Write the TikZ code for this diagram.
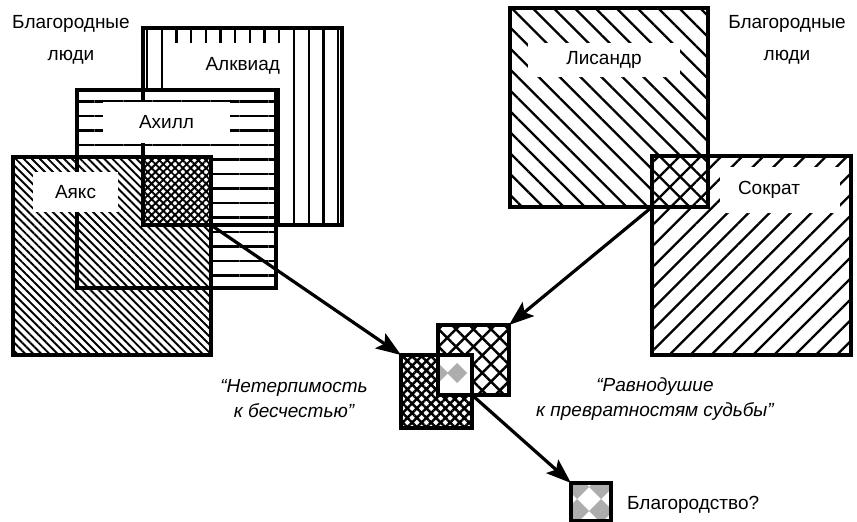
\documentclass[tikz,border=0pt]{standalone}
\usepackage{fontspec}
\setmainfont{Liberation Sans}
\usetikzlibrary{arrows.meta,patterns.meta}
\tikzstyle{sq} = [inner sep=0pt, outer sep=0pt, preaction={fill=white}]
\tikzstyle{frame} = [draw=black, line width=3.3pt]
\tikzstyle{tag} = [fill=white, inner sep=0pt]
\tikzstyle{note} = [align=center, inner sep=0pt]
\tikzstyle{pointer} = [-{Stealth[length=25pt,width=18pt,inset=5pt]}, line width=3.2pt]
\tikzstyle{gem} = [fill=black!32]

\begin{document}
\begin{tikzpicture}[x=1pt,y=-1pt,font=\fontsize{19}{23}\selectfont]
	\useasboundingbox (0,0) rectangle (857,522);
	% left group
	\node[sq, minimum width=199pt, minimum height=197pt, pattern={Lines[angle=90,distance=14.7pt,line width=2.3pt]}] (alkv) at (242.5,126.5) {};
	\node[sq, minimum width=199pt, minimum height=198pt, pattern={Lines[angle=0,distance=14.5pt,line width=2.3pt]}] (achil) at (176.5,189) {};
	\node[sq, minimum width=198pt, minimum height=198pt, pattern={Lines[angle=-45,distance=5.7pt,line width=1.9pt]}] (ajax) at (112,256) {};
	\node[sq, minimum width=68pt, minimum height=68pt, pattern={Hatch[angle=45,distance=5.5pt,line width=1.9pt]}] (honor) at (177,191) {};
	\foreach \n in {alkv,achil,ajax,honor}
		\draw[frame] (\n.north west) rectangle (\n.south east);
	\node[tag, minimum height=45pt, text width=105pt, align=right, inner xsep=7pt] (alkvtag) at (227.5,65.5) {Алквиад};
	\node[tag, minimum width=127pt, minimum height=41pt] (achiltag) at (166.5,122.5) {Ахилл};
	\node[tag, minimum width=85pt, minimum height=40pt] (ajaxtag) at (75.5,192) {Аякс};
	% right group
	\node[sq, minimum width=198pt, minimum height=199pt, pattern={Lines[angle=-45,distance=14.8pt,line width=2.3pt]}] (lys) at (609,107.5) {};
	\node[sq, minimum width=199pt, minimum height=199pt, pattern={Lines[angle=45,distance=14.8pt,line width=2.3pt]}] (socr) at (751.5,255.5) {};
	\node[sq, minimum width=56pt, minimum height=51pt, pattern={Hatch[angle=45,distance=14.8pt,line width=2.3pt]}] (calm) at (680,181.5) {};
	\foreach \n in {lys,socr,calm}
		\draw[frame] (\n.north west) rectangle (\n.south east);
	\node[tag, minimum width=152pt, minimum height=34pt] (lystag) at (604,60) {Лисандр};
	\node[tag, minimum height=46pt, text width=84pt, align=left, inner xsep=18pt] (socrtag) at (780,190) {Сократ};
	% small squares
	\node[sq, minimum width=71pt, minimum height=73pt, pattern={Hatch[angle=45,distance=6.7pt,line width=2.5pt]}] (intol) at (436.5,391.5) {};
	\node[sq, minimum width=71pt, minimum height=70pt, pattern={Hatch[angle=45,distance=12.4pt,line width=2.5pt]}] (indiff) at (473.5,360) {};
	\node[sq, minimum width=34pt, minimum height=40pt] (mix) at (455,375) {};
	\begin{scope}
		\clip (mix.north west) rectangle (mix.south east);
		\foreach \cx in {438,457}
			\fill[gem] (\cx-10,373) -- ++(10,-10) -- ++(10,10) -- ++(-10,10) -- cycle;
	\end{scope}
	\node[sq, minimum width=40pt, minimum height=38pt] (goal) at (591,502) {};
	\begin{scope}
		\clip (goal.north west) rectangle (goal.south east);
		\foreach \cx in {577,601}
			\foreach \cy in {487,511}
				\fill[gem] (\cx-12,\cy) -- ++(12,-12) -- ++(12,12) -- ++(-12,12) -- cycle;
	\end{scope}
	\foreach \n in {intol,indiff,mix,goal}
		\draw[frame] (\n.north west) rectangle (\n.south east);
	% texts
	\node[note, font=\fontsize{19}{32}\selectfont] (noblel) at (71,40) {Благородные\\люди};
	\node[note, font=\fontsize{19}{32}\selectfont] (nobler) at (787,40) {Благородные\\люди};
	\node[note, font=\fontsize{19}{25}\selectfont\itshape] (intoltxt) at (294,399) {“Нетерпимость\\к бесчестью”};
	\node[note, font=\fontsize{19}{25}\selectfont\itshape] (indifftxt) at (655,399) {“Равнодушие\\к превратностям судьбы”};
	\node[anchor=west, inner sep=0pt] (goaltxt) at (627,505) {Благородство?};
	% arrows
	\draw[pointer] (honor.south east) -- (intol.north west);
	\draw[pointer] (calm.south west) -- (indiff.north east);
	\draw[pointer] (mix.south east) -- (goal.north west);
\end{tikzpicture}
\end{document}
